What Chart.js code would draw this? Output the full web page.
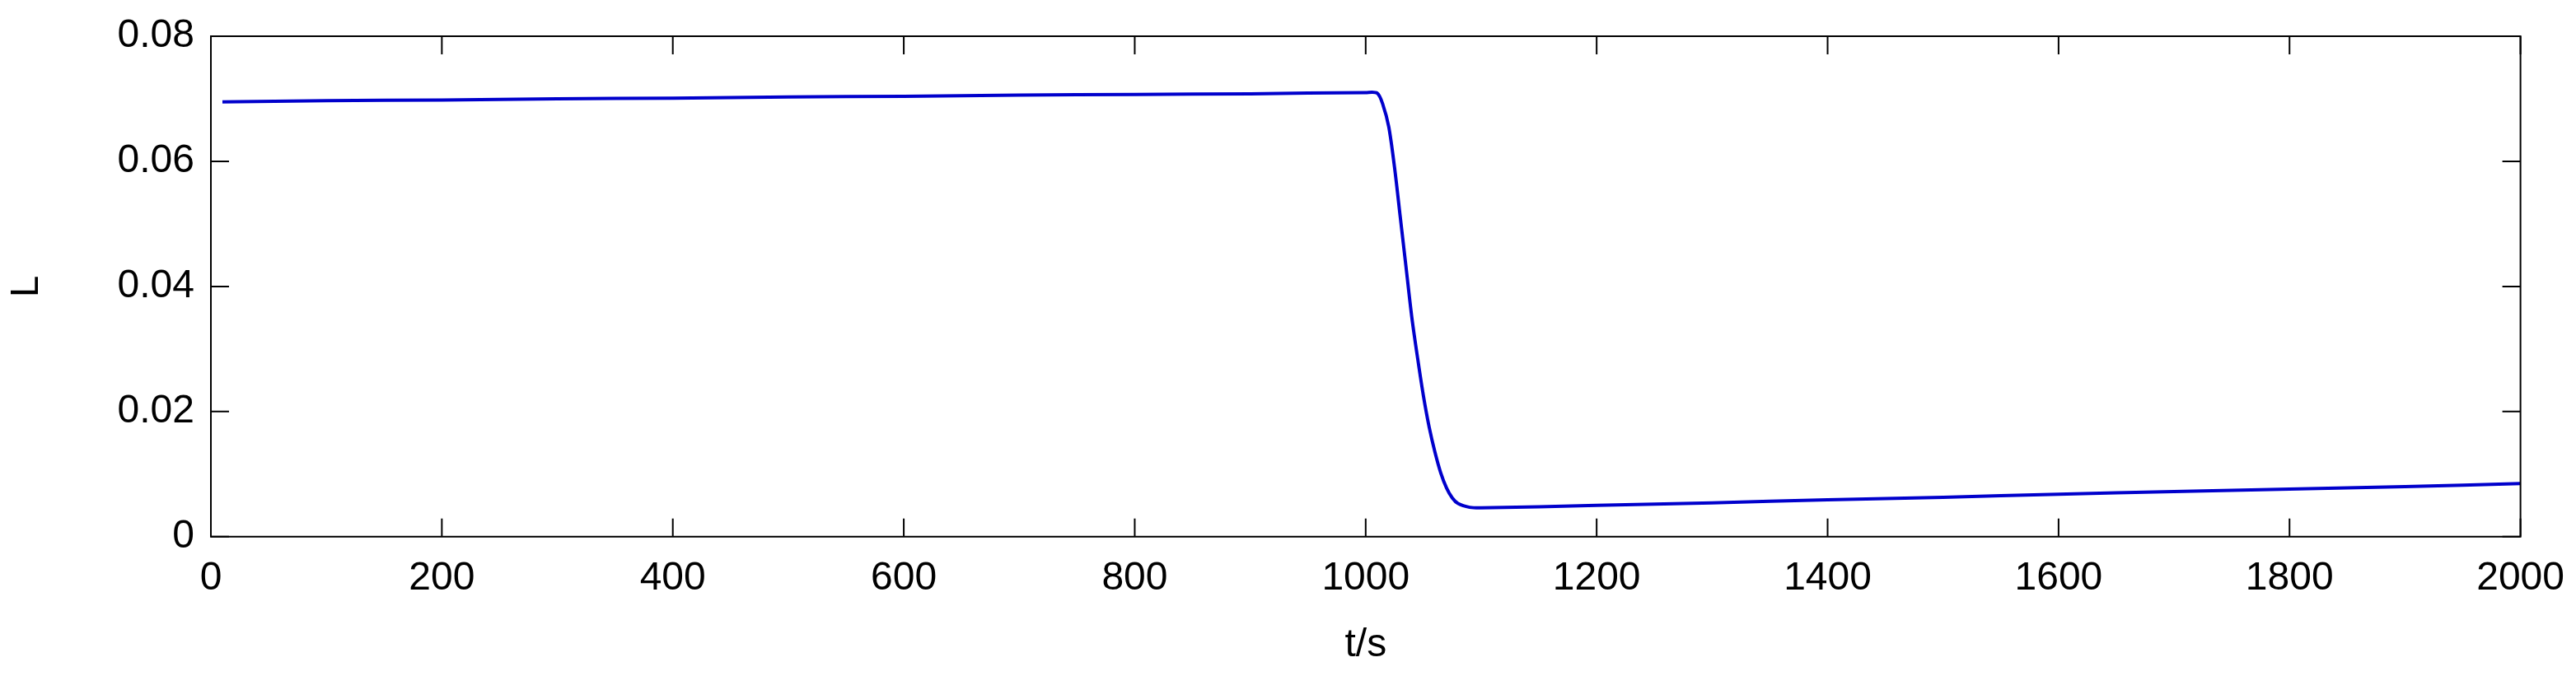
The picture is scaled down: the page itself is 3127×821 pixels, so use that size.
<!DOCTYPE html>
<html>
<head>
<meta charset="utf-8">
<script src="https://cdn.jsdelivr.net/npm/chart.js@4"></script>
<style>
  html, body { margin: 0; padding: 0; background: #fff; }
  #wrap { width: 3127px; height: 821px; }
</style>
</head>
<body>
<div id="wrap"><canvas id="c"></canvas></div>
<script>
const times = [10, 100, 200, 300, 400, 500, 600, 700, 800, 900, 1000, 1010, 1015, 1020, 1025, 1030, 1035, 1040, 1045, 1050, 1055, 1060, 1065, 1070, 1075, 1080, 1090, 1100, 1200, 1300, 1400, 1500, 1600, 1700, 1800, 1900, 2000];
const levels = [0.0695, 0.0697, 0.0698, 0.0700, 0.0701, 0.0703, 0.0704, 0.0706, 0.0707, 0.0708, 0.0710, 0.0709, 0.0690, 0.0655, 0.0590, 0.0510, 0.0430, 0.0350, 0.0285, 0.0225, 0.0175, 0.0135, 0.0102, 0.0078, 0.0062, 0.0053, 0.0047, 0.0046, 0.0050, 0.0054, 0.0059, 0.0063, 0.0068, 0.0072, 0.0076, 0.0080, 0.0085];
const xTicks = [0, 200, 400, 600, 800, 1000, 1200, 1400, 1600, 1800, 2000];
const yTicks = [0, 0.02, 0.04, 0.06, 0.08];

const font = "'Liberation Sans', Arial, sans-serif";

const frame = {
  id: 'frame',
  afterDraw(chart) {
    const {ctx, chartArea: a, scales: {x, y}} = chart;
    ctx.save();
    ctx.strokeStyle = '#000';
    ctx.lineWidth = 2;
    ctx.strokeRect(a.left, a.top, a.right - a.left, a.bottom - a.top);
    const len = 22;
    ctx.beginPath();
    xTicks.forEach(v => {
      const px = x.getPixelForValue(v);
      ctx.moveTo(px, a.bottom); ctx.lineTo(px, a.bottom - len);
      ctx.moveTo(px, a.top); ctx.lineTo(px, a.top + len);
    });
    yTicks.forEach(v => {
      const py = y.getPixelForValue(v);
      ctx.moveTo(a.left, py); ctx.lineTo(a.left + len, py);
      ctx.moveTo(a.right, py); ctx.lineTo(a.right - len, py);
    });
    ctx.stroke();
    ctx.restore();
  }
};

new Chart(document.getElementById('c'), {
  type: 'line',
  data: {
    datasets: [{
      data: times.map((t, i) => ({x: t, y: levels[i]})),
      borderColor: '#0000cc',
      borderWidth: 4,
      pointRadius: 0,
      tension: 0.3,
      fill: false
    }]
  },
  options: {
    responsive: true,
    maintainAspectRatio: false,
    animation: false,
    layout: {padding: {top: 44, right: 67, left: 0, bottom: 4}},
    plugins: {legend: {display: false}, tooltip: {enabled: false}},
    scales: {
      x: {
        type: 'linear', min: 0, max: 2000,
        afterBuildTicks: s => { s.ticks = xTicks.map(v => ({value: v})); },
        grid: {display: false},
        border: {display: false},
        ticks: {color: '#000', font: {family: font, size: 48}, padding: 14, maxRotation: 0,
          callback: v => String(v)},
        title: {display: true, text: 't/s', color: '#000', font: {family: font, size: 48}, padding: {top: 10}}
      },
      y: {
        min: 0, max: 0.08,
        afterBuildTicks: s => { s.ticks = yTicks.map(v => ({value: v})); },
        afterFit: s => { s.width = 256; },
        grid: {display: false},
        border: {display: false},
        ticks: {color: '#000', font: {family: font, size: 48}, padding: 12,
          callback: v => v === 0 ? '0' : v.toFixed(2)},
        title: {display: true, text: 'L', color: '#000', font: {family: font, size: 48}, padding: {bottom: 6}}
      }
    }
  },
  plugins: [frame]
});
</script>
</body>
</html>
